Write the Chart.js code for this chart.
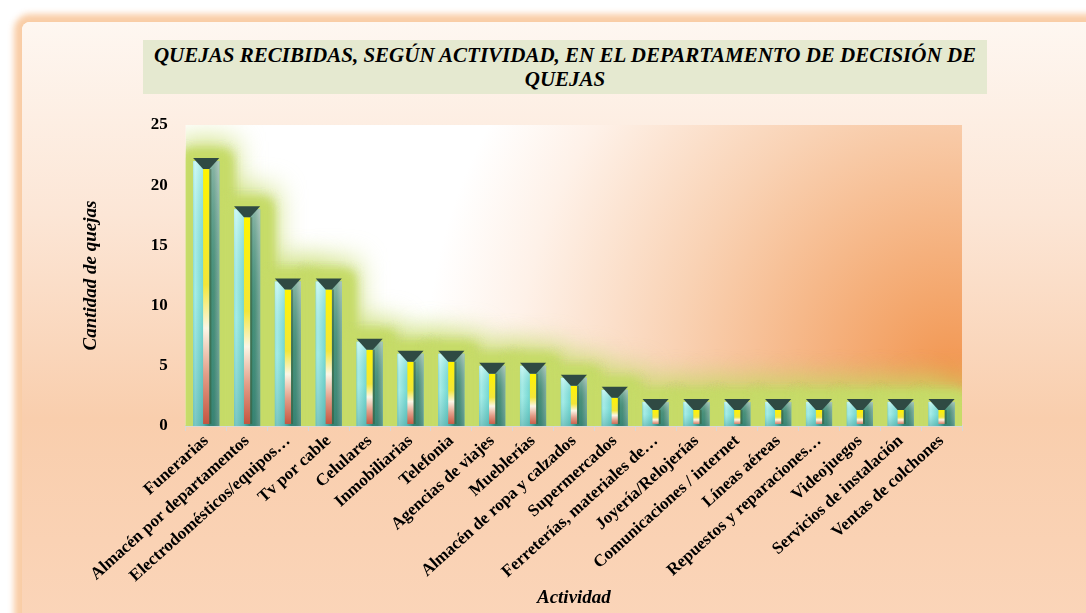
<!DOCTYPE html>
<html lang="es">
<head>
<meta charset="utf-8">
<title>Quejas recibidas según actividad</title>
<script src="https://cdn.jsdelivr.net/npm/chart.js@4.4.1/dist/chart.umd.min.js"></script>
<style>
  html, body { margin: 0; padding: 0; background: #fff; overflow: hidden; }
  #frame {
    position: absolute; left: 22px; top: 22px; width: 1100px; height: 640px;
    border-radius: 8px;
    background: linear-gradient(180deg, #fef7f1 0%, #fce6d6 30%, #f9cead 62%, #fbd6bb 100%);
    box-shadow: 0 0 6px 8px rgba(248, 196, 150, 0.85);
  }
  #titulo {
    position: absolute; left: 143px; top: 40px; width: 844px; height: 54px;
    background: #e5e9d0; color: #000; text-align: center;
    font: italic bold 21px/24px 'Liberation Serif', 'Times New Roman', serif;
    padding-top: 3px; box-sizing: border-box; white-space: nowrap;
  }
  #chart { position: absolute; left: 0; top: 0; }
</style>
</head>
<body>
<div id="frame"></div>
<div id="titulo"></div>
<canvas id="chart" width="1086" height="613"></canvas>
<script>
const tituloLineas = [
  "QUEJAS RECIBIDAS, SEGÚN ACTIVIDAD, EN EL DEPARTAMENTO DE DECISIÓN DE",
  "QUEJAS",
];

const actividades = [
  "Funerarias",
  "Almacén por departamentos",
  "Electrodomésticos/equipos…",
  "Tv por cable",
  "Celulares",
  "Inmobiliarias",
  "Telefonia",
  "Agencias de viajes",
  "Mueblerías",
  "Almacén de ropa y calzados",
  "Supermercados",
  "Ferreterías, materiales de…",
  "Joyería/Relojerías",
  "Comunicaciones / internet",
  "Líneas aéreas",
  "Repuestos y reparaciones…",
  "Videojuegos",
  "Servicios de instalación",
  "Ventas de colchones",
];

const quejas = [22, 18, 12, 12, 7, 6, 6, 5, 5, 4, 3, 2, 2, 2, 2, 2, 2, 2, 2];

const SERIF = "'Liberation Serif', 'Times New Roman', serif";

document.getElementById("titulo").innerHTML = tituloLineas.join("<br>");

// fondo del area de trazado
const fondoPlugin = {
  id: "fondo",
  beforeDraw(chart) {
    const { ctx, chartArea: a } = chart;
    ctx.save();
    ctx.fillStyle = "#ffffff";
    ctx.fillRect(a.left, a.top, a.right - a.left, a.bottom - a.top);
    const g = ctx.createRadialGradient(a.right - 10, a.bottom - 50, 0, a.right - 10, a.bottom - 50, 620);
    g.addColorStop(0, "#f29650");
    g.addColorStop(0.2, "#f5b07c");
    g.addColorStop(0.45, "#f9d2b4");
    g.addColorStop(0.7, "#fef1e8");
    g.addColorStop(0.85, "#ffffff");
    g.addColorStop(1, "#ffffff");
    ctx.fillStyle = g;
    ctx.fillRect(a.left, a.top, a.right - a.left, a.bottom - a.top);
    ctx.restore();
  },
};

// resplandor verde alrededor de las barras y decorado 3D
const barrasPlugin = {
  id: "barras3d",
  beforeDatasetsDraw(chart) {
    const { ctx, chartArea: a } = chart;
    const meta = chart.getDatasetMeta(0);
    ctx.save();
    ctx.beginPath();
    ctx.rect(a.left, a.top, a.right - a.left, a.bottom - a.top);
    ctx.clip();
    ctx.filter = "blur(14px)";
    ctx.fillStyle = "rgba(196, 218, 100, 0.9)";
    meta.data.forEach((el) => {
      const { x, y, base, width } = el.getProps(["x", "y", "base", "width"], true);
      ctx.fillRect(x - width / 2 - 16, y - 20, width + 32, base - y + 40);
    });
    ctx.filter = "blur(6px)";
    ctx.fillStyle = "rgb(198, 219, 104)";
    for (let pass = 0; pass < 3; pass++) {
      meta.data.forEach((el) => {
        const { x, y, base, width } = el.getProps(["x", "y", "base", "width"], true);
        ctx.fillRect(x - width / 2 - 10, y - 8, width + 20, base - y + 20);
      });
    }
    ctx.restore();
  },
  afterDatasetsDraw(chart) {
    const { ctx } = chart;
    const meta = chart.getDatasetMeta(0);
    ctx.save();
    meta.data.forEach((el) => {
      const { x, y, base, width } = el.getProps(["x", "y", "base", "width"], true);
      const left = x - width / 2;
      const h = base - y;

      // cuerpo biselado
      const gh = ctx.createLinearGradient(left, 0, left + width, 0);
      gh.addColorStop(0, "#9ee8e2");
      gh.addColorStop(0.08, "#b4f6f0");
      gh.addColorStop(0.36, "#7fe0da");
      gh.addColorStop(0.62, "#3f8f76");
      gh.addColorStop(0.8, "#4f8e76");
      gh.addColorStop(1, "#88ac9c");
      ctx.fillStyle = gh;
      ctx.fillRect(left, y, width, h);

      const gv = ctx.createLinearGradient(0, y, 0, base);
      gv.addColorStop(0, "rgba(255,255,255,0.35)");
      gv.addColorStop(0.5, "rgba(40,150,150,0.1)");
      gv.addColorStop(1, "rgba(20,110,110,0.35)");
      ctx.fillStyle = gv;
      ctx.fillRect(left, y, width, h);

      // franja central amarillo-rojo
      const sx = left + width * 0.38;
      const sw = width * 0.24;
      const gs = ctx.createLinearGradient(0, y + 8, 0, base);
      gs.addColorStop(0, "#fff400");
      gs.addColorStop(0.45, "#f2e63a");
      gs.addColorStop(0.62, "#fbf6e6");
      gs.addColorStop(0.8, "#e39d88");
      gs.addColorStop(1, "#c4503b");
      ctx.fillStyle = gs;
      ctx.fillRect(sx, y + 8, sw, h - 10);
      ctx.fillStyle = "rgba(60, 80, 40, 0.45)";
      ctx.fillRect(sx + sw, y + 8, 2, h - 10);

      // tapa oscura
      ctx.fillStyle = "#2f4a43";
      ctx.beginPath();
      ctx.moveTo(left, y - 3);
      ctx.lineTo(left + width, y - 3);
      ctx.lineTo(sx + sw, y + 8);
      ctx.lineTo(sx, y + 8);
      ctx.closePath();
      ctx.fill();
    });
    ctx.restore();
  },
};

new Chart(document.getElementById("chart"), {
  type: "bar",
  data: {
    labels: actividades,
    datasets: [
      {
        label: "Cantidad de quejas",
        data: quejas,
        backgroundColor: "#5cc4bc",
        borderWidth: 0,
        barPercentage: 0.64,
        categoryPercentage: 1,
      },
    ],
  },
  options: {
    responsive: false,
    animation: false,
    devicePixelRatio: 1,
    layout: {
      padding: { top: 125, left: 80, right: 124, bottom: 4 },
    },
    plugins: {
      legend: { display: false },
      tooltip: { enabled: false },
      title: { display: false },
    },
    scales: {
      x: {
        grid: {
          display: true,
          drawOnChartArea: false,
          drawTicks: true,
          tickLength: 5,
          color: "#d8d8d8",
          offset: true,
        },
        border: { display: true, color: "#d8d8d8", width: 2 },
        ticks: {
          color: "#000",
          font: { family: SERIF, size: 17, weight: "bold" },
          minRotation: 42,
          maxRotation: 42,
          autoSkip: false,
          padding: 0,
        },
        title: {
          display: true,
          text: "Actividad",
          color: "#000",
          font: { family: SERIF, size: 19, weight: "bold", style: "italic" },
          padding: { top: 0, bottom: 0 },
        },
      },
      y: {
        min: 0,
        max: 25,
        grid: { display: false },
        border: { display: false },
        ticks: {
          stepSize: 5,
          color: "#000",
          font: { family: SERIF, size: 17, weight: "bold" },
          padding: 10,
        },
        title: {
          display: true,
          text: "Cantidad de quejas",
          color: "#000",
          font: { family: SERIF, size: 19, weight: "bold", style: "italic" },
          padding: { top: 0, bottom: 38 },
        },
      },
    },
  },
  plugins: [fondoPlugin, barrasPlugin],
});
</script>
</body>
</html>
